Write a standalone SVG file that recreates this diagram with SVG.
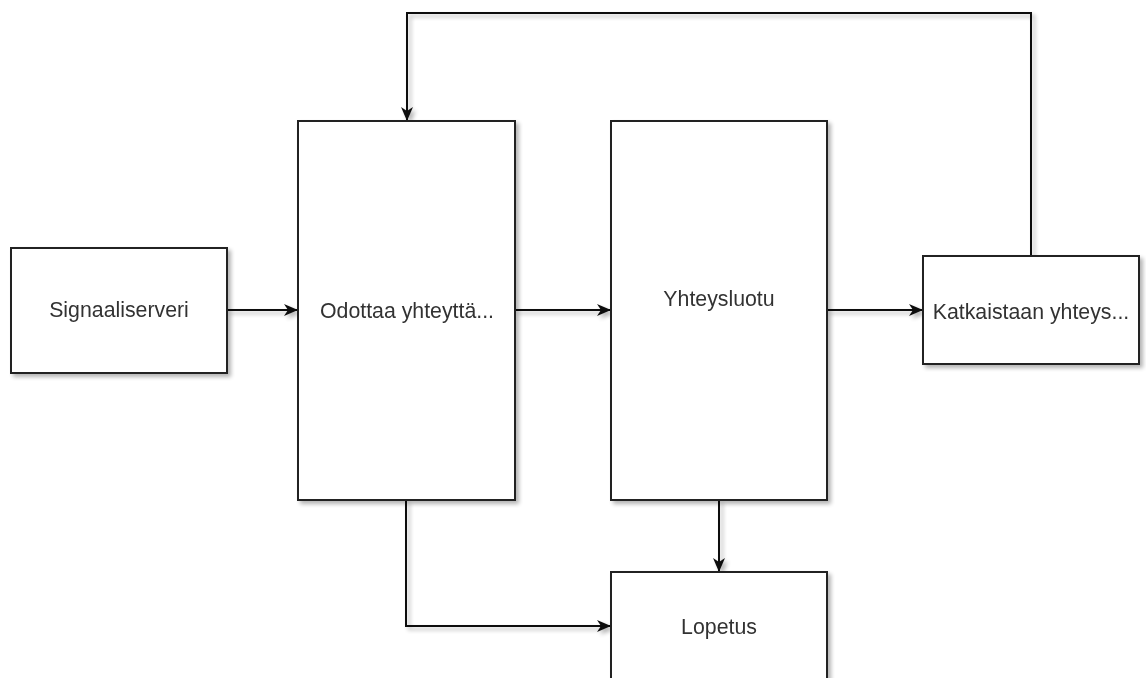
<svg xmlns="http://www.w3.org/2000/svg" width="1146" height="678" viewBox="0 0 1146 678">
<defs>
<filter id="sh" x="-10%" y="-10%" width="130%" height="130%">
<feGaussianBlur in="SourceAlpha" stdDeviation="2"/>
<feOffset dx="3" dy="3" result="b"/>
<feComponentTransfer><feFuncA type="linear" slope="0.3"/></feComponentTransfer>
<feMerge><feMergeNode/><feMergeNode in="SourceGraphic"/></feMerge>
</filter>
<marker id="arr" viewBox="0 0 14 12" refX="13" refY="6" markerWidth="14" markerHeight="12" markerUnits="userSpaceOnUse" orient="auto">
<path d="M0,0 L14,6 L0,12 L4,6 Z" fill="#111"/>
</marker>
</defs>
<style>
.box{fill:#fff;stroke:#222;stroke-width:2}
.lbl{font-family:"Liberation Sans",Arial,sans-serif;font-size:21.3px;fill:#333;text-anchor:middle;dominant-baseline:central}
.edge{fill:none;stroke:#111;stroke-width:2;marker-end:url(#arr)}
</style>
<rect width="1146" height="678" fill="#fff"/>
<g id="connectors" filter="url(#sh)">
<path class="edge" d="M227,310 H297"/>
<path class="edge" d="M515,310 H610"/>
<path class="edge" d="M827,310 H922"/>
<path class="edge" d="M719,500 V571"/>
<path class="edge" d="M406,500 V626 H610"/>
<path class="edge" d="M1031,256 V13 H407 V120"/>
</g>
<g id="signaaliserveri" filter="url(#sh)">
<rect class="box" x="11" y="248" width="216" height="125"/>
<text class="lbl" x="119" y="310">Signaaliserveri</text>
</g>
<g id="odottaa" filter="url(#sh)">
<rect class="box" x="298" y="121" width="217" height="379"/>
<text class="lbl" x="407" y="311">Odottaa yhteyttä...</text>
</g>
<g id="yhteysluotu" filter="url(#sh)">
<rect class="box" x="611" y="121" width="216" height="379"/>
<text class="lbl" x="719" y="299">Yhteysluotu</text>
</g>
<g id="katkaistaan" filter="url(#sh)">
<rect class="box" x="923" y="256" width="216" height="108"/>
<text class="lbl" x="1031" y="312">Katkaistaan yhteys...</text>
</g>
<g id="lopetus" filter="url(#sh)">
<rect class="box" x="611" y="572" width="216" height="140"/>
<text class="lbl" x="719" y="627">Lopetus</text>
</g>
</svg>
